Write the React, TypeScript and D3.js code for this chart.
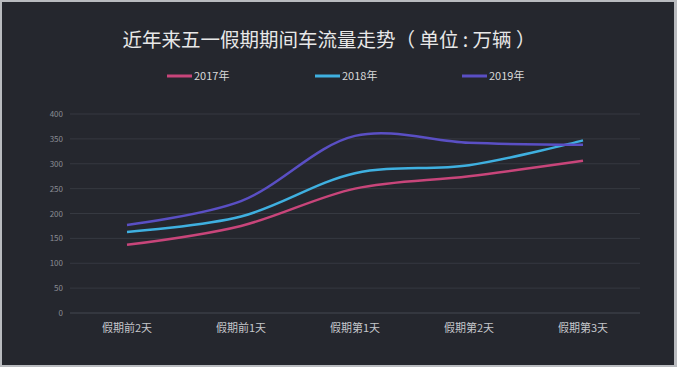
import React from "react";
import * as d3 from "d3";

const categories = ["假期前2天", "假期前1天", "假期第1天", "假期第2天", "假期第3天"];
const seriesNames = ["2017年", "2018年", "2019年"];
const values2017 = [137, 175, 250, 275, 306];
const values2018 = [163, 194, 281, 297, 347];
const values2019 = [177, 225, 356, 342, 338];
const yTicks = [0, 50, 100, 150, 200, 250, 300, 350, 400];
const colors = ["#c8457a", "#3fb0e0", "#5a4fc4"];

const W = 677;
const H = 375;

export default function App() {
  const x = d3.scaleBand<string>().domain(categories).range([70, 640]);
  const y = d3.scaleLinear().domain([0, 400]).range([313, 114]);
  const line = d3
    .line<number>()
    .x((_, i) => (x(categories[i]) as number) + x.bandwidth() / 2)
    .y((d) => y(d))
    .curve(d3.curveCatmullRom.alpha(0.5));
  const data = [values2017, values2018, values2019];
  const legendX = [167, 315, 462];
  const font = "'Noto Sans CJK SC', 'Noto Sans', sans-serif";
  return (
    <svg
      width={W}
      height={H}
      style={{ position: "absolute", left: 0, top: 0, display: "block" }}
      fontFamily={font}
    >
      <rect x={0} y={0} width={W} height={H} fill="#ffffff" />
      <rect x={0} y={0} width={W} height={367} fill="#b9bbbf" />
      <rect x={2} y={2} width={W - 5} height={363} fill="#25272e" />
      <text x={329} y={47} textAnchor="middle" fontSize={19.5} fill="#e8e8e8">
        近年来五一假期期间车流量走势（ 单位 : 万辆 ）
      </text>
      {seriesNames.map((n, i) => (
        <g key={n}>
          <line
            x1={legendX[i]}
            x2={legendX[i] + 25}
            y1={76}
            y2={76}
            stroke={colors[i]}
            strokeWidth={3}
          />
          <text x={legendX[i] + 27} y={80} fontSize={11} fill="#d8d8d8">
            {n}
          </text>
        </g>
      ))}
      {yTicks.map((t) => (
        <g key={t}>
          <line x1={70} x2={640} y1={y(t)} y2={y(t)} stroke={t === 0 ? "#454850" : "#363941"} strokeWidth={1} />
          <text x={63} y={y(t) + 3} textAnchor="end" fontSize={8} fill="#8a8d94">
            {t}
          </text>
        </g>
      ))}
      {categories.map((c) => (
        <text
          key={c}
          x={(x(c) as number) + x.bandwidth() / 2}
          y={332}
          textAnchor="middle"
          fontSize={11}
          fill="#c4c6ca"
        >
          {c}
        </text>
      ))}
      {data.map((d, i) => (
        <path key={i} d={line(d) || ""} fill="none" stroke={colors[i]} strokeWidth={2.5} />
      ))}
    </svg>
  );
}
